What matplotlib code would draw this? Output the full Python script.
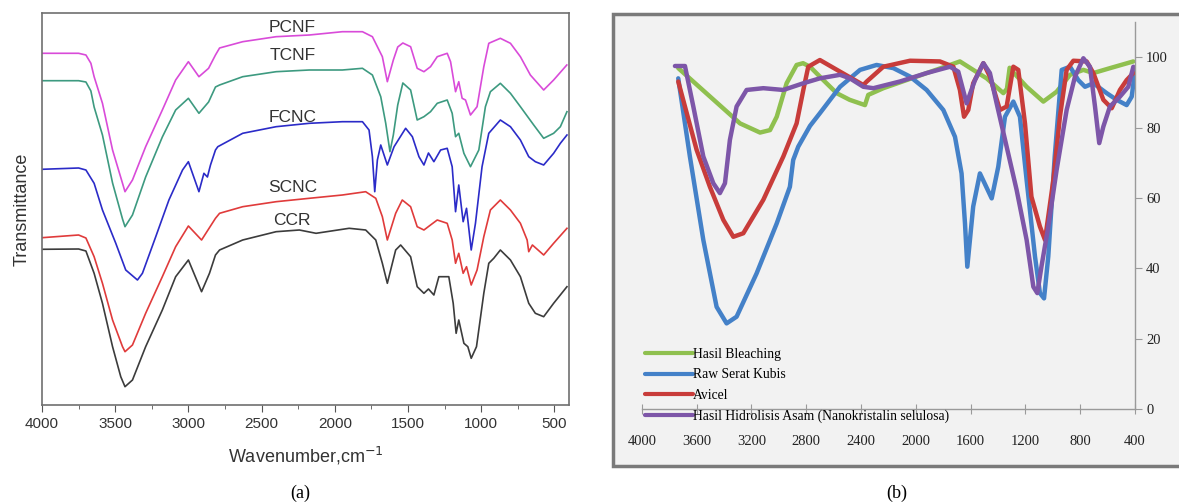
import numpy as np
import matplotlib
matplotlib.use('Agg')
import matplotlib.pyplot as plt
import matplotlib.patches as mpatches
from matplotlib.ticker import MultipleLocator

plt.rcParams['font.family'] = ['Liberation Sans', 'DejaVu Sans']

# ---- panel (a): FTIR spectra, arbitrary transmittance units (offset curves)
pcnf_x = [4000, 3750, 3700, 3666, 3644, 3587, 3518, 3450, 3433, 3382, 3292, 3178,
          3087, 3000, 2928, 2862, 2815, 2787, 2629, 2401, 2174, 1948, 1811, 1743,
          1675, 1641, 1600, 1570, 1535, 1482, 1437, 1391, 1346, 1300, 1232, 1209,
          1175, 1153, 1130, 1107, 1073, 1028, 982, 948, 869, 800, 732, 664, 573,
          505, 415]
pcnf_y = [351.7, 351.7, 350, 341.7, 328.3, 301.7, 255, 221.7, 213.3, 225, 258.3,
          295, 325, 343.3, 328.3, 336.7, 350, 357, 363.3, 368.3, 370, 373.3, 373.3,
          368.3, 348.3, 323.3, 345, 358, 362, 358.3, 336.7, 333.3, 338.3, 348.3,
          351.7, 343.3, 313.3, 323.3, 306.7, 305, 290, 298.3, 338.3, 361.7, 366.7,
          361.7, 348.3, 330, 315, 325, 340]

tcnf_x = [4000, 3750, 3700, 3666, 3644, 3587, 3518, 3450, 3433, 3382, 3292, 3178,
          3087, 3000, 2928, 2862, 2815, 2787, 2629, 2401, 2174, 1948, 1811, 1743,
          1686, 1652, 1623, 1600, 1570, 1535, 1482, 1437, 1391, 1346, 1300, 1232,
          1198, 1175, 1153, 1118, 1073, 1016, 971, 937, 869, 800, 732, 641, 573,
          505, 459, 414]
tcnf_y = [324.3, 324.3, 323, 314, 298, 270, 222, 186, 178.3, 190, 228, 268, 295,
          306.7, 291.7, 303, 318, 320, 328.3, 333.3, 335, 335, 336.7, 330, 308.3,
          281.7, 253.3, 270, 300, 322, 315, 285, 288.3, 293.3, 301.7, 305, 291.7,
          268.3, 271.7, 251.7, 238.3, 255, 298.3, 313.3, 321.7, 311.7, 298.3, 280,
          266.7, 271.7, 278.3, 293.3]

fcnc_x = [4000, 3750, 3700, 3644, 3587, 3496, 3428, 3348, 3314, 3223, 3133, 3040,
          3000, 2928, 2894, 2870, 2849, 2815, 2799, 2629, 2401, 2174, 1948, 1811,
          1766, 1743, 1727, 1709, 1686, 1641, 1595, 1516, 1470, 1425, 1391, 1360,
          1323, 1277, 1232, 1198, 1175, 1153, 1123, 1100, 1068, 1039, 994, 948,
          869, 800, 732, 675, 630, 573, 505, 459, 414]
fcnc_y = [235.7, 237, 235, 221.7, 195, 161.7, 135, 125, 131.7, 168.3, 205, 235,
          243.3, 213.3, 231.7, 228, 240, 255, 258.3, 271.7, 278.3, 281.7, 283.3,
          283.3, 275, 248.3, 213.3, 245, 260, 240, 258.3, 276.7, 268.3, 248.3, 240,
          252, 243.3, 255, 256.7, 238.3, 193.3, 220, 183.3, 196.7, 155, 181.7,
          238.3, 271.7, 285, 278.3, 265, 248.3, 243.3, 240, 251.7, 261.7, 270]

scnc_x = [4000, 3750, 3700, 3644, 3587, 3518, 3450, 3433, 3382, 3292, 3178, 3087,
          3000, 2910, 2815, 2787, 2629, 2401, 2174, 1948, 1789, 1720, 1675, 1641,
          1584, 1539, 1482, 1437, 1391, 1346, 1300, 1232, 1198, 1175, 1153, 1123,
          1100, 1068, 1028, 982, 937, 869, 800, 732, 686, 675, 650, 573, 505, 414]
scnc_y = [167.3, 170, 167, 148.3, 121.7, 85, 58.3, 53.3, 60, 91.7, 128.3, 158.3,
          179, 165, 186.7, 191.7, 198.3, 203.3, 206.7, 210, 213.3, 206.7, 188.3,
          165, 191.7, 205, 198.3, 178.3, 175, 180, 185, 181.7, 165, 141.7, 151.7,
          131.7, 138.3, 120, 135, 168.3, 195, 205, 195, 181.7, 165, 153.3, 160,
          150, 161.7, 176.7]

ccr_x = [4000, 3750, 3700, 3644, 3587, 3518, 3462, 3433, 3382, 3292, 3178, 3087,
         3000, 2910, 2856, 2815, 2787, 2629, 2401, 2242, 2128, 1902, 1789, 1720,
         1675, 1641, 1584, 1550, 1482, 1437, 1391, 1360, 1323, 1289, 1221, 1191,
         1171, 1153, 1118, 1091, 1068, 1032, 982, 948, 914, 869, 800, 732, 675,
         630, 573, 505, 414]
ccr_y = [155.7, 156, 154, 131.7, 101.7, 58.3, 28.3, 18.3, 25, 58.3, 95, 128.3,
         145, 113.3, 131.7, 150, 155, 165, 173.3, 175, 171.7, 176.7, 175, 165,
         141.7, 121.7, 155, 160, 148.3, 118.3, 111.7, 116, 110, 128.3, 128.3,
         101.7, 71.7, 85, 61.7, 58.3, 46.7, 58.3, 111.7, 141.7, 146.7, 155, 145,
         128.3, 101.7, 91.7, 88.3, 101.7, 118.3]

a_names = ['PCNF', 'TCNF', 'FCNC', 'SCNC', 'CCR']
a_label_y = [378, 350, 288, 218, 185]

# ---- panel (b): FTIR transmittance (%)
bleach_x = [3734, 3283, 3137, 3064, 3015, 2943, 2870, 2823, 2772, 2675, 2578,
            2483, 2371, 2347, 2237, 1994, 1750, 1678, 1581, 1483, 1361, 1335,
            1315, 1295, 1191, 1069, 972, 874, 777, 704, 582, 412]
bleach_y = [96.9, 81.2, 78.6, 79.3, 83.1, 92.6, 97.8, 98.3, 97.3, 93.5, 89.8,
            87.9, 86.4, 89.3, 91.2, 94.5, 97.8, 98.8, 96.4, 94, 89.8, 91, 97,
            96, 91.6, 87.4, 90.2, 95, 96.4, 95.5, 96.9, 98.8]

raw_x = [3734, 3649, 3551, 3454, 3381, 3308, 3162, 3015, 2919, 2895, 2858, 2772,
         2700, 2553, 2407, 2286, 2164, 2042, 1921, 1799, 1714, 1666, 1641, 1624,
         1581, 1532, 1446, 1398, 1349, 1288, 1240, 1191, 1130, 1094, 1064, 1033,
         986, 935, 874, 814, 765, 704, 607, 534, 461, 424, 400]
raw_y = [94, 71.8, 48.1, 29.1, 24.4, 26.3, 38.6, 52.8, 63.2, 70.8, 74.6, 80.5,
         84.1, 91.6, 96.4, 97.8, 96.9, 94.5, 90.7, 85, 77.4, 67, 52.8, 40.5, 57.6,
         67, 59.9, 68.9, 83.1, 87.4, 83.1, 65.1, 43.4, 33, 31.5, 43.4, 71.8, 96.4,
         97.3, 93.5, 91.6, 92.6, 89.8, 87.9, 86.4, 88.8, 96]

avicel_x = [3734, 3600, 3503, 3405, 3332, 3259, 3113, 2967, 2870, 2821, 2785,
            2700, 2553, 2383, 2358, 2237, 2042, 1824, 1726, 1678, 1648, 1617,
            1581, 1507, 1459, 1386, 1337, 1288, 1252, 1203, 1156, 1094, 1057,
            996, 948, 899, 850, 753, 704, 631, 570, 510, 461, 412]
avicel_y = [93.1, 73.7, 63.2, 53.8, 49, 50, 59.5, 71.8, 81.2, 90.7, 97.3, 99.2,
            95.9, 92.1, 93.1, 97.3, 99, 98.8, 97.3, 90.7, 83.1, 85, 92.6, 98.3,
            94.5, 85, 86, 97.3, 96.4, 81.2, 60.4, 51.9, 48.1, 65.1, 83.1, 96.4,
            99, 98.8, 95.5, 87.9, 85.5, 90.7, 93.5, 95.5]

hidro_x = [3758, 3685, 3624, 3551, 3478, 3430, 3393, 3357, 3308, 3235, 3113,
           2967, 2821, 2700, 2553, 2481, 2383, 2310, 2116, 1921, 1750, 1690,
           1629, 1568, 1507, 1459, 1410, 1337, 1264, 1191, 1142, 1113, 1083,
           1033, 972, 899, 838, 777, 729, 692, 661, 631, 583, 510, 449, 412]
hidro_y = [97.5, 97.5, 86, 71.8, 64.2, 61.4, 64.2, 76.5, 86, 90.7, 91.2, 90.7,
           92.6, 94, 95, 94, 91.6, 91.2, 93.1, 95.5, 97.3, 95.9, 86.9, 93.5,
           98.3, 95.5, 86.9, 74.6, 62.3, 48.1, 34.8, 33, 40.5, 51.9, 68, 85, 94.5,
           99.7, 97.3, 86, 75.6, 80.3, 86, 88.8, 91.6, 97.3]

b_names = ['Hasil Bleaching', 'Raw Serat Kubis', 'Avicel',
           'Hasil Hidrolisis Asam (Nanokristalin selulosa)']


def panel_a(fig):
    ax = fig.add_axes([42/1179, 1 - 405/504, 527/1179, 392/504])
    series = [(pcnf_x, pcnf_y, '#d94bd9'), (tcnf_x, tcnf_y, '#3d9a80'),
              (fcnc_x, fcnc_y, '#2b2bc8'), (scnc_x, scnc_y, '#e03b3b'),
              (ccr_x, ccr_y, '#3c3c3c')]
    for (x, y, c) in series:
        ax.plot(x, y, color=c, lw=1.2)
    for name, yl in zip(a_names, a_label_y):
        ax.text(2290, yl, name, fontsize=12.5, color='#333333',
                ha='center', va='center')
    ax.set_xlim(4000, 400)
    ax.set_ylim(0, 392)
    ax.set_yticks([])
    ax.xaxis.set_major_locator(MultipleLocator(500))
    ax.xaxis.set_minor_locator(MultipleLocator(250))
    ax.tick_params(axis='x', which='major', direction='out', length=5,
                   color='#555555', labelsize=11, labelcolor='#333333')
    ax.tick_params(axis='x', which='minor', direction='out', length=3,
                   color='#555555')
    for s in ax.spines.values():
        s.set_color('#707070')
        s.set_linewidth(1.2)
    ax.set_xlabel('Wavenumber,cm$^{-1}$', fontsize=13, color='#333333',
                  labelpad=10)
    ax.set_ylabel('Transmittance', fontsize=13, color='#333333', labelpad=8)


def panel_b(fig):
    box = mpatches.Rectangle((613/1179, 1 - 466/504), 0.6, 452/504,
                             transform=fig.transFigure, facecolor='#f2f2f2',
                             edgecolor='#7a7a7a', lw=2.5, zorder=-10)
    fig.add_artist(box)

    ax = fig.add_axes([641.8/1179, 1 - 409.3/504, 493.2/1179, 387.3/504])
    ax.patch.set_alpha(0)
    series = [(bleach_x, bleach_y, '#8fc04f'), (raw_x, raw_y, '#4481c8'),
              (avicel_x, avicel_y, '#c83c3a'), (hidro_x, hidro_y, '#7d56a8')]
    handles = []
    for (x, y, c), name in zip(series, b_names):
        h, = ax.plot(x, y, color=c, lw=3.2, solid_joinstyle='round',
                     solid_capstyle='round', label=name)
        handles.append(h)

    ax.set_xlim(4000, 400)
    ax.set_ylim(0, 110)
    ax.set_xticks(np.arange(4000, 399, -400))
    ax.set_yticks(np.arange(0, 101, 20))
    ax.yaxis.tick_right()
    for k in ['top', 'left']:
        ax.spines[k].set_visible(False)
    for k in ['bottom', 'right']:
        ax.spines[k].set_color('#9a9a9a')
        ax.spines[k].set_linewidth(1.0)
    ax.tick_params(axis='x', direction='inout', length=7, color='#9a9a9a',
                   pad=15, labelsize=10.5, labelcolor='#222222')
    ax.tick_params(axis='y', direction='out', length=5, color='#9a9a9a',
                   pad=3, labelsize=10.5, labelcolor='#222222')
    for lab in ax.get_xticklabels() + ax.get_yticklabels():
        lab.set_family('Liberation Serif')

    leg = fig.legend(handles=handles, loc='upper left',
                     bbox_to_anchor=(645/1179, 1 - 348/504), frameon=False,
                     handlelength=3.5, handletextpad=0.0, labelspacing=0.55,
                     borderpad=0, borderaxespad=0,
                     prop={'family': 'Liberation Serif', 'size': 9.8})
    for line in leg.get_lines():
        line.set_linewidth(3)


fig = plt.figure(figsize=(11.79, 5.04), dpi=100)
panel_a(fig)
panel_b(fig)
fig.text(300/1179, 1 - 493/504, '(a)', fontsize=13, family='Liberation Serif',
         ha='center', va='center')
fig.text(897/1179, 1 - 493/504, '(b)', fontsize=13, family='Liberation Serif',
         ha='center', va='center')
fig.savefig('out.png', dpi=100)
